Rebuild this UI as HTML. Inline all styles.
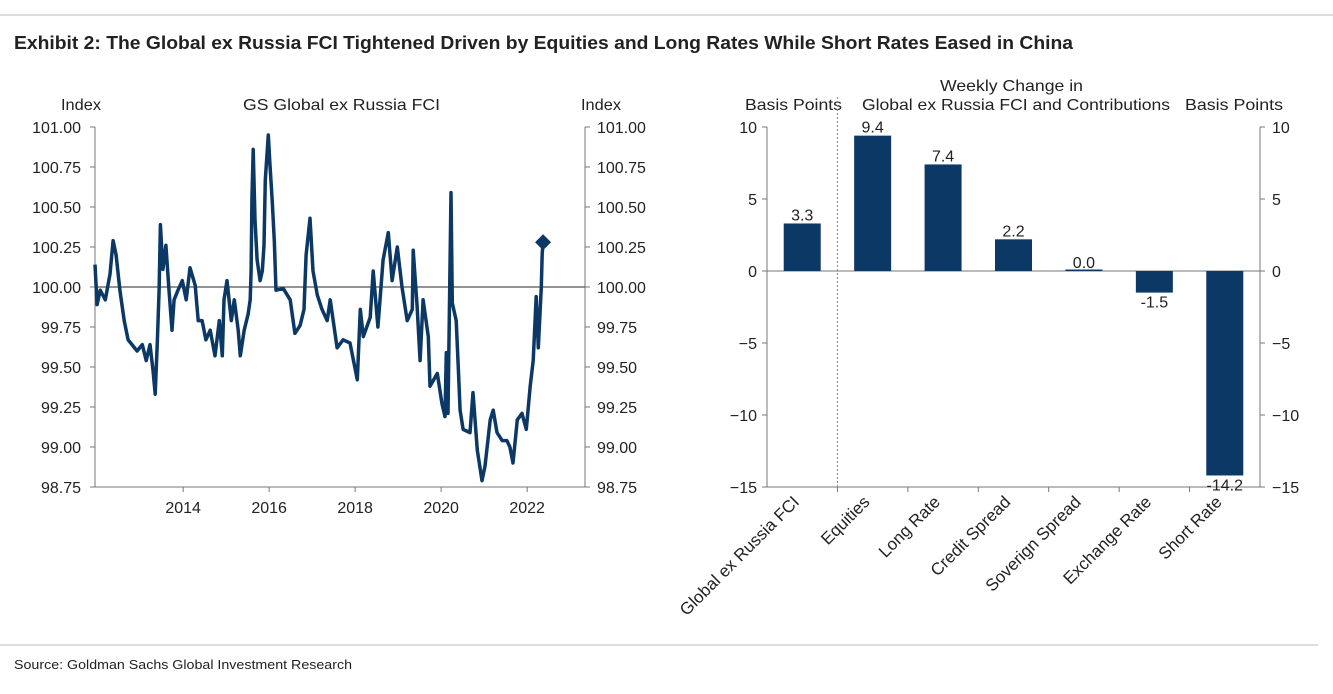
<!DOCTYPE html>
<html><head><meta charset="utf-8"><style>
body{margin:0;background:#fff;width:1333px;height:689px;overflow:hidden;font-family:"Liberation Sans",sans-serif;}
svg text{font-family:"Liberation Sans",sans-serif;fill:#222;}
</style></head><body>
<svg id="s" width="1333" height="689">
<line x1="0" y1="15" x2="1333" y2="15" stroke="#bbb"/>
<text x="14" y="49" font-size="18" font-weight="bold" textLength="1059" lengthAdjust="spacingAndGlyphs">Exhibit 2: The Global ex Russia FCI Tightened Driven by Equities and Long Rates While Short Rates Eased in China</text>
<line x1="0" y1="645" x2="1318" y2="645" stroke="#bbb"/>
<text x="14" y="669" font-size="13" textLength="338" lengthAdjust="spacingAndGlyphs">Source: Goldman Sachs Global Investment Research</text>
<g id="lc"></g>
<g id="bc"></g>
</svg>
<script>
const fciYears=[2011.95,2012.0,2012.07,2012.19,2012.30,2012.37,2012.44,2012.53,2012.63,2012.72,2012.81,2012.93,2013.05,2013.14,2013.23,2013.30,2013.35,2013.40,2013.44,2013.47,2013.53,2013.60,2013.67,2013.74,2013.79,2013.88,2013.98,2014.07,2014.16,2014.28,2014.35,2014.44,2014.53,2014.63,2014.74,2014.84,2014.91,2014.95,2015.02,2015.12,2015.19,2015.28,2015.33,2015.42,2015.51,2015.56,2015.58,2015.60,2015.63,2015.67,2015.72,2015.79,2015.84,2015.88,2015.91,2015.98,2016.02,2016.07,2016.12,2016.16,2016.33,2016.49,2016.60,2016.72,2016.81,2016.86,2016.95,2017.02,2017.12,2017.23,2017.35,2017.42,2017.58,2017.72,2017.88,2018.05,2018.12,2018.19,2018.35,2018.42,2018.53,2018.65,2018.77,2018.86,2018.98,2019.09,2019.21,2019.33,2019.35,2019.44,2019.51,2019.58,2019.70,2019.74,2019.91,2020.02,2020.09,2020.12,2020.16,2020.23,2020.26,2020.35,2020.40,2020.44,2020.51,2020.67,2020.74,2020.84,2020.95,2021.02,2021.14,2021.21,2021.30,2021.42,2021.53,2021.60,2021.67,2021.77,2021.88,2021.98,2022.07,2022.14,2022.21,2022.26,2022.33,2022.35,2022.37];
const fciValues=[100.14,99.89,99.98,99.92,100.08,100.29,100.2,99.98,99.79,99.67,99.64,99.6,99.64,99.54,99.64,99.48,99.33,99.67,99.98,100.39,100.11,100.26,99.98,99.73,99.92,99.98,100.04,99.92,100.12,100.01,99.79,99.79,99.67,99.73,99.57,99.79,99.57,99.92,100.04,99.79,99.92,99.73,99.57,99.73,99.83,99.92,100.1,100.54,100.86,100.42,100.17,100.04,100.1,100.26,100.67,100.95,100.76,100.54,100.29,99.98,99.99,99.92,99.71,99.76,99.86,100.2,100.43,100.1,99.95,99.86,99.79,99.92,99.62,99.67,99.65,99.42,99.86,99.69,99.81,100.1,99.75,100.17,100.34,100.04,100.25,100.0,99.79,99.86,100.23,99.88,99.54,99.92,99.69,99.38,99.46,99.27,99.19,99.59,99.21,100.59,99.9,99.79,99.48,99.23,99.11,99.09,99.34,98.98,98.79,98.88,99.17,99.23,99.09,99.04,99.04,99.0,98.9,99.17,99.21,99.11,99.38,99.54,99.94,99.62,100.0,100.21,100.28];
const yTicksL=[101.00,100.75,100.50,100.25,100.00,99.75,99.50,99.25,99.00,98.75];
const xTicksL=[2014,2016,2018,2020,2022];
const cats=["Global ex Russia FCI","Equities","Long Rate","Credit Spread","Soverign Spread","Exchange Rate","Short Rate"];
const contrib=[3.3,9.4,7.4,2.2,0.0,-1.5,-14.2];
const yTicksR=[10,5,0,-5,-10,-15];
const NS="http://www.w3.org/2000/svg";
function mk(p,t,a,txt){const e=document.createElementNS(NS,t);for(const k in a)e.setAttribute(k,a[k]);if(txt!==undefined)e.textContent=txt;p.appendChild(e);return e;}
const FS=16;
// line chart
const lc=document.getElementById('lc');
const L={x0:95,x1:585,y0:127,y1:487};
const xs=y=>L.x0+(y-2011.95)*43;
const ys=v=>L.y0+(101-v)/2.25*(L.y1-L.y0);
let e=mk(lc,'text',{x:61,y:110,'font-size':FS,textLength:40,lengthAdjust:'spacingAndGlyphs'},'Index');


e=mk(lc,'text',{x:243,y:110,'font-size':FS,textLength:197,lengthAdjust:'spacingAndGlyphs'},'GS Global ex Russia FCI');


e=mk(lc,'text',{x:581,y:110,'font-size':FS,textLength:40,lengthAdjust:'spacingAndGlyphs'},'Index');


mk(lc,'line',{x1:L.x0,y1:L.y0,x2:L.x0,y2:L.y1,stroke:'#777'});
mk(lc,'line',{x1:L.x1,y1:L.y0,x2:L.x1,y2:L.y1,stroke:'#777'});
mk(lc,'line',{x1:L.x0,y1:L.y1,x2:L.x1,y2:L.y1,stroke:'#777'});
yTicksL.forEach(v=>{const y=ys(v);
 mk(lc,'line',{x1:L.x0-5,y1:y,x2:L.x0,y2:y,stroke:'#777'});
 mk(lc,'line',{x1:L.x1,y1:y,x2:L.x1+5,y2:y,stroke:'#777'});
 e=mk(lc,'text',{x:L.x0-14,y:y+6,'font-size':FS,'text-anchor':'end'},v.toFixed(2));
 
 
 e=mk(lc,'text',{x:L.x1+12,y:y+6,'font-size':FS},v.toFixed(2));
 
 
});
xTicksL.forEach(t=>{const x=xs(t);
 mk(lc,'line',{x1:x,y1:L.y1,x2:x,y2:L.y1+5,stroke:'#777'});
 e=mk(lc,'text',{x:x,y:L.y1+26,'font-size':FS,'text-anchor':'middle'},String(t));
 
 
});
e=mk(lc,'line',{x1:L.x0,y1:ys(100),x2:L.x1,y2:ys(100),stroke:'#555','stroke-width':1.2});


e=mk(lc,'polyline',{points:fciYears.map((y,i)=>xs(y).toFixed(1)+','+ys(fciValues[i]).toFixed(1)).join(' '),fill:'none',stroke:'#0c3865','stroke-width':3.5,'stroke-linejoin':'round'});


const lx=xs(fciYears[fciYears.length-1]),ly=ys(fciValues[fciValues.length-1]);
e=mk(lc,'polygon',{points:`${lx},${ly-8} ${lx+8},${ly} ${lx},${ly+8} ${lx-8},${ly}`,fill:'#0c3865'});


// bar chart
const bc=document.getElementById('bc');
const B={x0:767,x1:1260,y0:127,y1:487};
const bw=(B.x1-B.x0)/cats.length;
const yb=v=>B.y0+(10-v)/25*(B.y1-B.y0);
e=mk(bc,'text',{x:745,y:110,'font-size':FS,textLength:97,lengthAdjust:'spacingAndGlyphs'},'Basis Points');


e=mk(bc,'text',{x:1185,y:110,'font-size':FS,textLength:98,lengthAdjust:'spacingAndGlyphs'},'Basis Points');


e=mk(bc,'text',{x:940,y:91,'font-size':FS,textLength:143,lengthAdjust:'spacingAndGlyphs'},'Weekly Change in');


e=mk(bc,'text',{x:862,y:110,'font-size':FS,textLength:308,lengthAdjust:'spacingAndGlyphs'},'Global ex Russia FCI and Contributions');


mk(bc,'line',{x1:B.x0,y1:B.y0,x2:B.x0,y2:B.y1,stroke:'#777'});
mk(bc,'line',{x1:B.x1,y1:B.y0,x2:B.x1,y2:B.y1,stroke:'#777'});
mk(bc,'line',{x1:B.x0,y1:B.y1,x2:B.x1,y2:B.y1,stroke:'#777'});
yTicksR.forEach(v=>{const y=yb(v);
 mk(bc,'line',{x1:B.x0-5,y1:y,x2:B.x0,y2:y,stroke:'#777'});
 mk(bc,'line',{x1:B.x1,y1:y,x2:B.x1+5,y2:y,stroke:'#777'});
 const lab=v<0?'\u2212'+Math.abs(v):String(v);
 e=mk(bc,'text',{x:B.x0-10,y:y+6,'font-size':FS,'text-anchor':'end'},lab);
 
 
 e=mk(bc,'text',{x:B.x1+12,y:y+6,'font-size':FS},lab);
 
 
});
for(let i=1;i<cats.length;i++){const x=B.x0+bw*i;mk(bc,'line',{x1:x,y1:B.y1,x2:x,y2:B.y1+5,stroke:'#777'});}
e=mk(bc,'line',{x1:B.x0+bw,y1:B.y0-30,x2:B.x0+bw,y2:B.y1,stroke:'#888','stroke-dasharray':'2,2'});


mk(bc,'line',{x1:B.x0,y1:yb(0),x2:B.x1,y2:yb(0),stroke:'#777'});
cats.forEach((c,i)=>{const cx=B.x0+bw*(i+0.5),v=contrib[i];
 const top=Math.min(yb(v),yb(0)),h=Math.max(Math.abs(yb(v)-yb(0)),1.5);
 e=mk(bc,'rect',{x:cx-18.5,y:v>=0?yb(0)-h:top,width:37,height:h,fill:'#0c3865'});
 
 
 e=mk(bc,'text',{x:cx,y:v>=0?yb(v)-3:yb(v)+15,'font-size':FS,'text-anchor':'middle'},v.toFixed(1));
 
 
 const tx=cx-2,ty=B.y1+16;
 e=mk(bc,'text',{x:tx,y:ty,'font-size':17,'text-anchor':'end',transform:`rotate(-45 ${tx} ${ty})`},c);
 
 
});
</script>
</body></html>
